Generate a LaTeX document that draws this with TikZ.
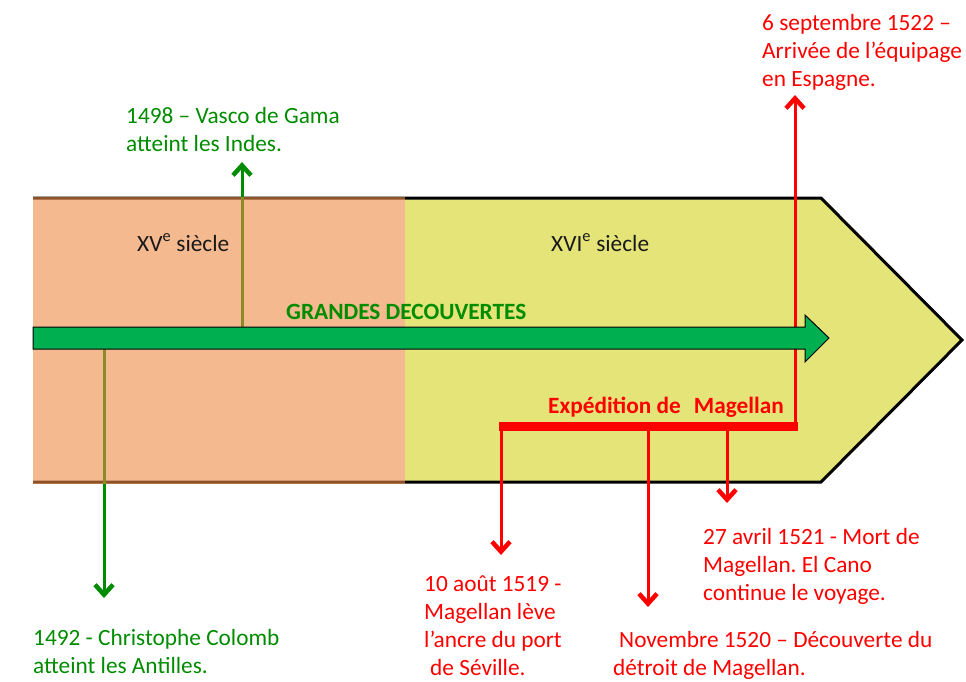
\documentclass[tikz,border=0pt]{standalone}
\usepackage{fontspec}
\setmainfont{Carlito}
\usetikzlibrary{arrows.meta}
\frenchspacing
\definecolor{Salmon}{RGB}{238,138,68}
\definecolor{Lime}{RGB}{228,228,120}
\definecolor{Bandgreen}{RGB}{0,176,80}
\definecolor{Textgreen}{RGB}{0,140,0}
\definecolor{Textred}{RGB}{255,0,0}
\tikzstyle{Mytext} = [inner sep=0pt, anchor=base west, align=left]
\tikzset{
    greenevent/.style={
        draw=Textgreen,
        line width=3pt,
        -{Straight Barb[length=10pt,width=18pt,line width=4.5pt]},
    },
    redevent/.style={
        draw=Textred,
        line width=3pt,
        -{Straight Barb[length=10pt,width=18pt,line width=4.5pt]},
    },
}

\begin{document}
\begin{tikzpicture}[
    x=1pt,
    y=-1pt,
    font=\fontsize{23.3}{28}\selectfont]

\useasboundingbox (0,0) rectangle (966,681);

% band of the two centuries
\fill [Lime] (405,198) -- (821,198) -- (962,340) -- (821,482) -- (405,482) -- cycle;
\draw [line width=3pt, line join=miter]
    (33,198) -- (821,198) -- (962,340) -- (821,482) -- (33,482);

% points on the timeline
\coordinate (gama)     at (242,327);
\coordinate (gama_e)   at (242,162);
\coordinate (colomb)   at (104,349);
\coordinate (colomb_e) at (104,598);

% 1498 and 1492
\draw [greenevent] (gama) -- (gama_e);
\draw [greenevent] (colomb) -- (colomb_e);

% XVe siecle
\fill [Salmon, fill opacity=0.6] (33,196.5) rectangle (405,483.5);

% Expedition de Magellan
\coordinate (bar_l) at (499,426.5);
\coordinate (bar_r) at (798,426.5);
\coordinate (sevilla)   at (501,430);
\coordinate (sevilla_e) at (501,555);
\coordinate (detroit)   at (648,430);
\coordinate (detroit_e) at (648,607);
\coordinate (mort)      at (727,430);
\coordinate (mort_e)    at (727,503);
\coordinate (retour)    at (795,423);
\coordinate (retour_e)  at (795,95);

\draw [Textred, line width=9pt] (bar_l) -- (bar_r);
\draw [redevent] (sevilla) -- (sevilla_e);
\draw [redevent] (detroit) -- (detroit_e);
\draw [redevent] (mort) -- (mort_e);
\draw [redevent] (retour) -- (retour_e);

% grandes decouvertes
\draw [fill=Bandgreen, line width=1pt]
    (33,327) -- (805,327) -- (805,315) -- (829,338) --
    (805,362) -- (805,349) -- (33,349) -- cycle;

% Labels
\node [Mytext, text=black!90] (s_15) at (137,251) {XV\textsuperscript{e} siècle};
\node [Mytext, text=black!90] (s_16) at (551,251) {XVI\textsuperscript{e} siècle};
\node [Mytext, text=Textgreen, font=\fontsize{23.3}{28}\selectfont\bfseries] (gd)
    at (286,319) {GRANDES DECOUVERTES};
\node [Mytext, text=Textred, font=\fontsize{23.3}{28}\selectfont\bfseries] (exp)
    at (548,413) {Expédition de\hspace{13pt}Magellan};

% 1498
\node [Mytext, text=Textgreen] (t_1498) at (126,151)
{
    1498 – Vasco de Gama \\
    atteint les Indes.
};
% 1492
\node [Mytext, text=Textgreen] (t_1492) at (33,673)
{
    1492 - Christophe Colomb \\
    atteint les Antilles.
};
% 10 aout 1519
\node [Mytext, text=Textred] (t_1519) at (424,675)
{
    10 août 1519 - \\
    Magellan lève \\
    l’ancre du port \\
    \hspace{6pt}de Séville.
};
% novembre 1520
\node [Mytext, text=Textred] (t_1520) at (613,675)
{
    \hspace{6pt}Novembre 1520 – Découverte du \\
    détroit de Magellan.
};
% 27 avril 1521
\node [Mytext, text=Textred] (t_1521) at (703,600)
{
    27 avril 1521 - Mort de \\
    Magellan. El Cano \\
    continue le voyage.
};
% 6 septembre 1522
\node [Mytext, text=Textred] (t_1522) at (762,86)
{
    6 septembre 1522 – \\
    Arrivée de l’équipage \\
    en Espagne.
};

\end{tikzpicture}
\end{document}
